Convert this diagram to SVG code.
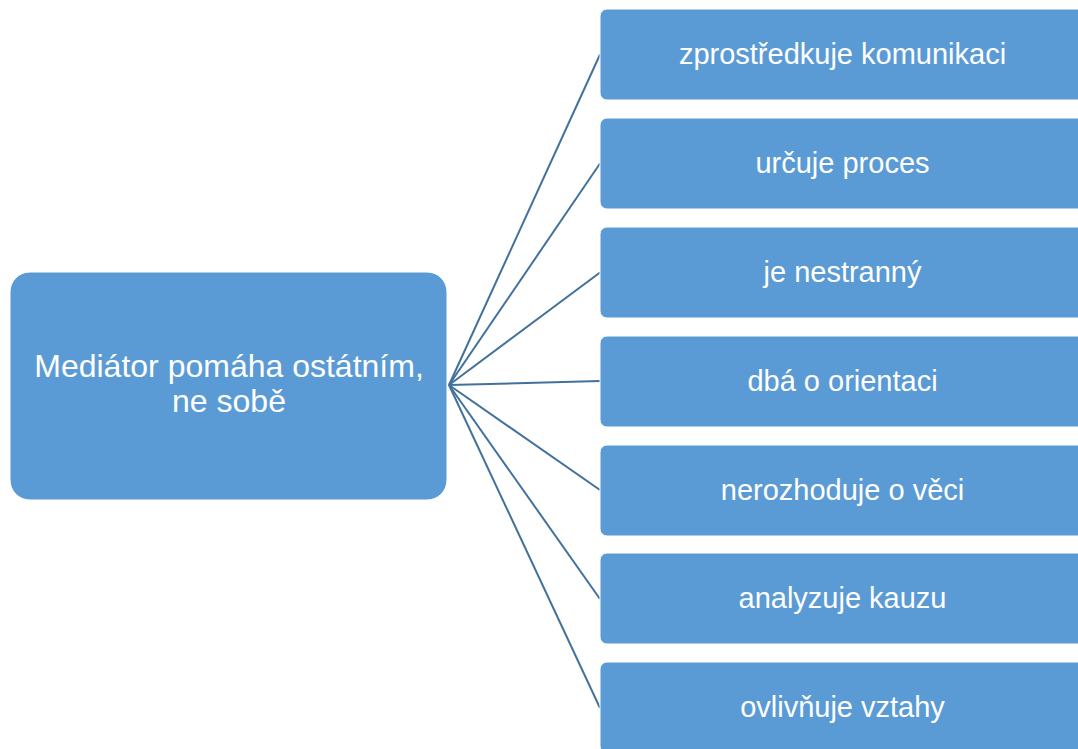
<svg xmlns="http://www.w3.org/2000/svg" width="1078" height="749" viewBox="0 0 1078 749">
<style>
.box{fill:#5B9BD5;stroke:#ffffff;stroke-width:1}
.t{font-family:"Liberation Sans",Arial,sans-serif;fill:#ffffff;text-anchor:middle}
.r{font-size:29px}
.l{font-size:32px}
.c{stroke:#41719C;stroke-width:2;fill:none}
</style>
<rect width="1078" height="749" fill="#ffffff"/>
<g id="connectors">
<line class="c" x1="449" y1="385" x2="600" y2="54.5"/>
<line class="c" x1="449" y1="385" x2="600" y2="163.5"/>
<line class="c" x1="449" y1="385" x2="600" y2="272.5"/>
<line class="c" x1="449" y1="385" x2="600" y2="381"/>
<line class="c" x1="449" y1="385" x2="600" y2="490"/>
<line class="c" x1="449" y1="385" x2="600" y2="599"/>
<line class="c" x1="449" y1="385" x2="600" y2="708"/>
</g>
<g id="center">
<rect class="box" x="10" y="272" width="437" height="228" rx="20"/>
<text class="t l" x="229" y="377">Mediátor pomáha ostátním,</text>
<text class="t l" x="229" y="412">ne sobě</text>
</g>
<g id="n1">
<rect class="box" x="600" y="9" width="485" height="91" rx="7"/>
<text class="t r" x="842.5" y="63.5">zprostředkuje komunikaci</text>
</g>
<g id="n2">
<rect class="box" x="600" y="118" width="485" height="91" rx="7"/>
<text class="t r" x="842.5" y="172.5">určuje proces</text>
</g>
<g id="n3">
<rect class="box" x="600" y="227" width="485" height="91" rx="7"/>
<text class="t r" x="842.5" y="281.5">je nestranný</text>
</g>
<g id="n4">
<rect class="box" x="600" y="336" width="485" height="91" rx="7"/>
<text class="t r" x="842.5" y="390.5">dbá o orientaci</text>
</g>
<g id="n5">
<rect class="box" x="600" y="445" width="485" height="91" rx="7"/>
<text class="t r" x="842.5" y="499.5">nerozhoduje o věci</text>
</g>
<g id="n6">
<rect class="box" x="600" y="553" width="485" height="91" rx="7"/>
<text class="t r" x="842.5" y="608">analyzuje kauzu</text>
</g>
<g id="n7">
<rect class="box" x="600" y="662" width="485" height="91" rx="7"/>
<text class="t r" x="842.5" y="717">ovlivňuje vztahy</text>
</g>
</svg>
